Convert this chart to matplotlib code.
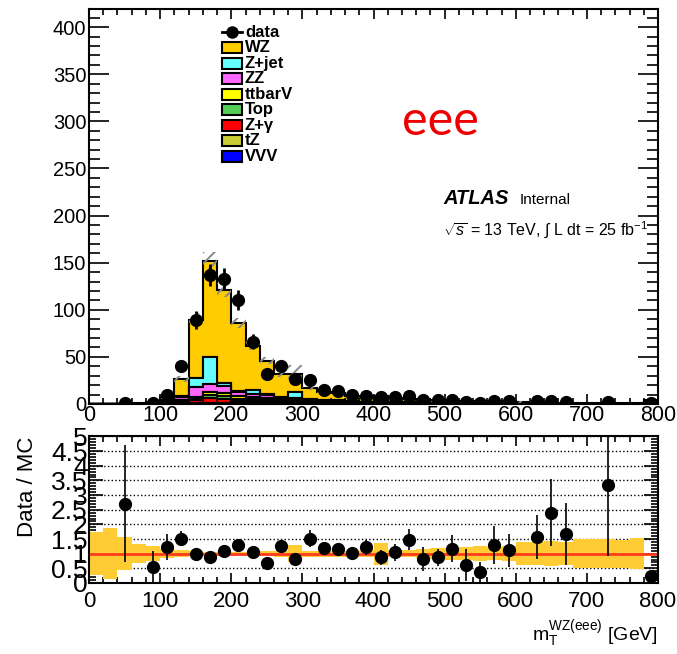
import numpy as np
import matplotlib
matplotlib.use("Agg")
import matplotlib.pyplot as plt
from matplotlib.patches import Rectangle
from matplotlib.ticker import MultipleLocator, FuncFormatter

plt.rcParams["font.family"] = ["Liberation Sans", "DejaVu Sans"]
plt.rcParams["mathtext.fontset"] = "custom"
plt.rcParams["mathtext.rm"] = "Liberation Sans"
plt.rcParams["mathtext.it"] = "Liberation Sans:italic"
plt.rcParams["mathtext.bf"] = "Liberation Sans:bold"
plt.rcParams["hatch.linewidth"] = 1.4

# 20 GeV bins from 0 to 800
edges = np.arange(0, 820, 20)
centers = edges[:-1] + 10

data = np.array([0, 0, 1, 0, 1, 9, 40, 89, 137, 133, 110, 66, 32, 40, 26, 25, 15, 14, 9, 8,
                 7, 7, 8, 4, 4, 4, 2, 1, 3, 3, 0, 3, 3, 2, 0, 0, 2, 0, 0, 1], dtype=float)

# stacked backgrounds, bottom -> top
vvv = [0, 0, 0, 0, 0, 0.1, 0.3, 0.3, 0.4, 0.4, 0.3, 0.3, 0.3, 0.2, 0.2, 0.2, 0.1, 0.1, 0.1, 0.1,
       0.1, 0.1, 0.1, 0.05, 0.05, 0.05, 0.05, 0.05, 0.05, 0.05, 0.05, 0.05, 0.03, 0.03, 0.03, 0.03, 0.02, 0.02, 0.02, 0.1]
tz = [0, 0, 0, 0, 0, 0.1, 0.5, 0.7, 1.0, 1.0, 1.0, 1.0, 1.5, 1.0, 0.8, 0.5, 0.4, 0.4, 0.3, 0.3,
      0.3, 0.2, 0.2, 0.2, 0.2, 0.15, 0.15, 0.1, 0.1, 0.1, 0.1, 0.1, 0.05, 0.05, 0.05, 0.05, 0.03, 0.03, 0.03, 0.2]
zgam = [0.1, 0.1, 0.1, 0.2, 0.5, 1.5, 2.0, 3.0, 5.0, 4.0, 2.0, 1.5, 1.0, 1.0, 1.0, 0.5, 0.4, 0.3, 0.2, 0.2,
        0.3, 0.2, 0.1, 0.1, 0.1, 0.1, 0.1, 0.1, 0.05, 0.05, 0.05, 0.05, 0.05, 0.05, 0.03, 0.03, 0.02, 0.02, 0.02, 0.1]
top = [0, 0, 0, 0, 0.1, 0.5, 1.0, 2.0, 3.0, 3.0, 2.5, 2.5, 2.0, 1.5, 1.5, 1.0, 0.8, 0.7, 0.5, 0.4,
       0.4, 0.3, 0.3, 0.3, 0.2, 0.2, 0.2, 0.15, 0.1, 0.15, 0.1, 0.1, 0.05, 0.05, 0.05, 0.05, 0.03, 0.03, 0.03, 0.2]
ttv = [0, 0, 0, 0, 0, 0.2, 0.5, 1.5, 3.0, 3.0, 2.5, 2.0, 1.5, 1.0, 1.0, 1.0, 0.8, 0.8, 0.6, 0.5,
       0.5, 0.4, 0.4, 0.3, 0.3, 0.3, 0.2, 0.2, 0.2, 0.2, 0.15, 0.15, 0.1, 0.1, 0.1, 0.08, 0.05, 0.05, 0.05, 0.4]
zz = [0, 0, 0.02, 0.1, 0.3, 1.0, 3.0, 10.0, 9.0, 8.0, 4.0, 3.0, 3.0, 2.0, 2.0, 1.5, 1.0, 1.0, 0.7, 0.5,
      0.6, 0.5, 0.4, 0.4, 0.3, 0.3, 0.3, 0.2, 0.2, 0.2, 0.15, 0.15, 0.1, 0.1, 0.08, 0.08, 0.05, 0.05, 0.05, 0.4]
zjet = [0.1, 0.1, 0.1, 0.2, 0.4, 0.8, 1.0, 10.0, 29.0, 3.0, 1.0, 5.0, 1.0, 1.0, 6.0, 0.5, 0.5, 1.2, 0.5, 0.3,
        1.5, 0.5, 0.3, 0.3, 0.3, 0.2, 0.3, 0.2, 0.1, 0.3, 0.3, 0.2, 0.1, 0.1, 0.1, 0.1, 0.05, 0.1, 0.05, 0.3]
wz = [0.1, 0.1, 0.15, 0.3, 0.5, 3.1, 18.2, 61.5, 101.6, 98.6, 72.7, 46.7, 35.7, 24.3, 19.5, 11.3, 8.4, 7.5, 5.8, 4.3,
      4.3, 4.5, 3.6, 3.25, 3.15, 2.1, 2.0, 1.7, 1.5, 1.65, 1.1, 1.1, 0.77, 0.72, 0.56, 0.48, 0.35, 0.4, 0.35, 2.8]

# relative MC uncertainty per bin
mc_unc = np.array([0.74, 0.87, 0.56, 0.33, 0.25, 0.15, 0.12, 0.08, 0.06, 0.06, 0.06, 0.07, 0.08, 0.1, 0.3,
                   0.1, 0.1, 0.1, 0.1, 0.12, 0.37, 0.12, 0.12, 0.15, 0.18, 0.2, 0.22, 0.25, 0.22, 0.25,
                   0.4, 0.4, 0.42, 0.4, 0.5, 0.5, 0.5, 0.48, 0.52, 0.0])

# error on data/MC
ratio_err = np.array([0, 0, 2.0, 0, 0.53, 0.45, 0.25, 0.12, 0.1, 0.1, 0.12, 0.13, 0.12, 0.2, 0.15,
                      0.3, 0.2, 0.2, 0.2, 0.25, 0.25, 0.3, 0.37, 0.4, 0.3, 0.45, 0.55, 0.35, 0.65, 0.55,
                      0, 0.75, 1.15, 1.05, 0, 0, 2.4, 0, 0, 0.15])

stack = [vvv, tz, zgam, top, ttv, zz, zjet, wz]
stack_colors = ["#0000FF", "#CCCC33", "#FF0000", "#55CC55", "#FFFF00", "#FF66FF", "#66FFFF", "#FFCC00"]
legend_labels = ["WZ", "Z+jet", "ZZ", "ttbarV", "Top", "Z+γ", "tZ", "VVV"]

mc_total = np.sum(np.array(stack), axis=0)
has_data = data > 0

fig = plt.figure(figsize=(6.77, 6.54), dpi=100)
ax = fig.add_axes([0.1315, 0.3823, 0.8405, 0.6035])
ax2 = fig.add_axes([0.1315, 0.1086, 0.8405, 0.2240])

# ---- top panel
ax.hist([centers] * len(stack), bins=edges, weights=stack, stacked=True,
        histtype="stepfilled", color=stack_colors, edgecolor="black", linewidth=1.5)
ax.stairs(mc_total * (1 + mc_unc), edges, baseline=mc_total * (1 - mc_unc), fill=True,
          facecolor="none", edgecolor="#888888", hatch="///", linewidth=0)
ax.errorbar(centers[has_data], data[has_data], yerr=np.sqrt(data[has_data]), fmt="o",
            color="black", ms=8.5, elinewidth=2, capsize=0, zorder=5)

ax.set_xlim(0, 800)
ax.set_ylim(0, 419)
ax.xaxis.set_major_locator(MultipleLocator(100))
ax.xaxis.set_minor_locator(MultipleLocator(20))
ax.yaxis.set_major_locator(MultipleLocator(50))
ax.yaxis.set_minor_locator(MultipleLocator(10))
ax.tick_params(which="both", direction="in", top=True, right=True, width=1.2)
ax.tick_params(axis="y", which="major", length=14.4, labelsize=14.5, pad=2)
ax.tick_params(axis="y", which="minor", length=8)
ax.tick_params(axis="x", which="major", length=7.2, labelsize=15.5, pad=1)
ax.tick_params(axis="x", which="minor", length=4.3)
for s in ax.spines.values():
    s.set_linewidth(1.5)

# legend drawn ROOT style
x0, w, h = 0.2337, 0.0352, 0.0279
y0, dy = 0.9417, 0.0393
ax.plot([x0, x0 + w], [y0, y0], color="black", lw=2, transform=ax.transAxes, clip_on=False)
ax.plot([x0 + w / 2], [y0], "o", color="black", ms=8, transform=ax.transAxes, clip_on=False)
ax.text(0.274, y0, "data", fontsize=12, weight="bold", va="center", transform=ax.transAxes)
for i, (lab, col) in enumerate(zip(legend_labels, stack_colors[::-1])):
    yy = y0 - (i + 1) * dy
    ax.add_patch(Rectangle((x0, yy - h / 2), w, h, transform=ax.transAxes,
                           facecolor=col, edgecolor="black", lw=1.5))
    ax.text(0.274, yy, lab, fontsize=12, weight="bold", va="center", transform=ax.transAxes)

ax.text(0.617, 0.717, "eee", color="#EE0000", fontsize=35, family="Lato",
        ha="center", va="center", transform=ax.transAxes)
ax.text(0.622, 0.506, "ATLAS", fontsize=14.5, weight="bold", style="italic",
        va="baseline", transform=ax.transAxes)
ax.text(0.7575, 0.506, "Internal", fontsize=11, va="baseline", transform=ax.transAxes)
ax.text(0.622, 0.428, r"$\sqrt{s}$ = 13 TeV, $\int$ L dt = 25 fb$^{-1}$", fontsize=11.5,
        va="baseline", transform=ax.transAxes)

# ---- ratio panel
ratio = np.zeros_like(data)
ratio[has_data] = data[has_data] / mc_total[has_data]
ax2.set_axisbelow(True)
ax2.grid(axis="y", which="major", ls=":", color="black", lw=1)
ax2.stairs(1 + mc_unc, edges, baseline=1 - mc_unc, fill=True, color="#FFCC33", lw=0)
ax2.axhline(1, color="#FF3B1F", lw=2)
ax2.errorbar(centers[has_data], ratio[has_data], yerr=ratio_err[has_data], fmt="o",
             color="black", ms=8.5, elinewidth=1.2, capsize=0, zorder=5)

ax2.set_xlim(0, 800)
ax2.set_ylim(0, 5)
ax2.xaxis.set_major_locator(MultipleLocator(100))
ax2.xaxis.set_minor_locator(MultipleLocator(20))
ax2.yaxis.set_major_locator(MultipleLocator(0.5))
ax2.yaxis.set_minor_locator(MultipleLocator(0.1))
ax2.yaxis.set_major_formatter(FuncFormatter(lambda v, p: "%g" % v))
ax2.tick_params(which="both", direction="in", top=True, right=True, width=1.2)
ax2.tick_params(axis="y", which="major", length=10, labelsize=19, pad=1)
ax2.tick_params(axis="y", which="minor", length=5)
ax2.tick_params(axis="x", which="major", length=7.2, labelsize=16, pad=6)
ax2.tick_params(axis="x", which="minor", length=4.3)
for s in ax2.spines.values():
    s.set_linewidth(1.5)

ax2.set_ylabel("Data / MC", fontsize=16, loc="top")
ax2.yaxis.set_label_coords(-0.09, 1.0)
ax2.set_xlabel(r"m$_{\mathrm{T}}^{\mathrm{WZ(eee)}}$ [GeV]", fontsize=14, loc="right", labelpad=5)

fig.savefig("out.png", dpi=100)
